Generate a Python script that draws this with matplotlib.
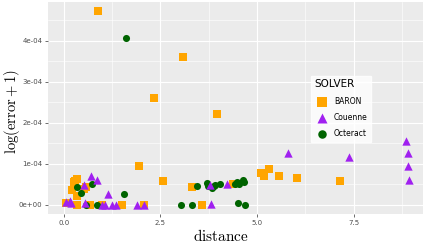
import matplotlib.pyplot as plt
from matplotlib.ticker import MultipleLocator, FuncFormatter

# data (y values in units of 1e-4)
baron_x = [0.89, 3.09, 2.34, 1.96, 2.57, 3.32, 3.58, 0.26, 0.35, 0.30, 0.21, 0.34, 0.58, 0.52,
           0.05, 0.34, 0.69, 0.98, 1.52, 2.07, 3.96, 5.10, 5.17, 5.32, 5.58, 6.03, 7.15, 4.37]
baron_y = [4.71, 3.61, 2.61, 0.94, 0.58, 0.44, 0.0, 0.55, 0.62, 0.57, 0.35, 0.22, 0.42, 0.38,
           0.05, 0.0, 0.0, 0.0, 0.0, 0.0, 2.20, 0.77, 0.70, 0.88, 0.69, 0.66, 0.58, 0.50]

couenne_x = [0.70, 0.85, 0.52, 1.15, 0.06, 0.15, 0.20, 0.55, 0.98, 1.06, 1.24, 1.36, 1.89, 2.07,
             3.80, 3.78, 4.23, 5.80, 7.37, 8.86, 8.92, 8.92, 8.93]
couenne_y = [0.70, 0.60, 0.48, 0.27, 0.07, 0.10, 0.03, 0.05, 0.0, 0.0, 0.0, 0.0, 0.0, 0.0,
             0.02, 0.48, 0.50, 1.27, 1.15, 1.54, 1.25, 0.93, 0.60]

octeract_x = [1.62, 0.34, 0.44, 0.74, 1.56, 0.57, 0.86, 3.04, 3.32, 3.44, 3.70, 3.74, 3.83, 3.88,
              3.91, 4.04, 4.43, 4.49, 4.53, 4.65, 4.67, 4.52, 4.69]
octeract_y = [4.07, 0.44, 0.28, 0.51, 0.27, 0.0, 0.0, 0.0, 0.0, 0.46, 0.52, 0.46, 0.41, 0.46,
              0.48, 0.50, 0.50, 0.56, 0.50, 0.60, 0.55, 0.03, 0.0]

plt.rcParams['mathtext.fontset'] = 'cm'

fig = plt.figure(figsize=(4.24, 2.43), dpi=100)
ax = fig.add_axes([0.113, 0.119, 0.885, 0.873])
ax.set_facecolor('#EBEBEB')
for s in ax.spines.values():
    s.set_visible(False)

sc = 1e-4
ax.scatter(baron_x, [v * sc for v in baron_y], marker='s', s=30, color='#FFA500',
           linewidths=0, label='BARON', zorder=3)
ax.scatter(octeract_x, [v * sc for v in octeract_y], marker='o', s=26, color='#006400',
           linewidths=0, label='Octeract', zorder=3)
ax.scatter(couenne_x, [v * sc for v in couenne_y], marker='^', s=36, color='#A020F0',
           linewidths=0, label='Couenne', zorder=3)

ax.set_xlim(-0.41, 9.3)
ax.set_ylim(-0.23e-4, 4.94e-4)
ax.xaxis.set_major_locator(MultipleLocator(2.5))
ax.xaxis.set_minor_locator(MultipleLocator(1.25))
ax.yaxis.set_major_locator(MultipleLocator(1e-4))
ax.yaxis.set_minor_locator(MultipleLocator(0.5e-4))
ax.xaxis.set_major_formatter(FuncFormatter(lambda v, p: f'{v:.1f}'))
ax.yaxis.set_major_formatter(FuncFormatter(lambda v, p: f'{int(round(v / 1e-4))}e-04' if round(v / 1e-4) else '0e+00'))
ax.grid(True, which='major', color='white', lw=0.8)
ax.grid(True, which='minor', color='white', lw=0.4)
ax.set_axisbelow(True)
ax.tick_params(which='major', length=2, width=0.5, color='#333333', labelsize=5, labelcolor='#4D4D4D', pad=2)
ax.tick_params(which='minor', length=0)

ax.set_xlabel(r'$\mathrm{distance}$', fontsize=11)
ax.set_ylabel(r'$\log(\mathrm{error} + 1)$', fontsize=10.5)
ax.xaxis.set_label_coords(0.46, -0.065)
ax.yaxis.set_label_coords(-0.068, 0.486)

h, l = ax.get_legend_handles_labels()
order = [0, 2, 1]
leg = ax.legend([h[i] for i in order], [l[i] for i in order], title='SOLVER',
                loc='upper left', bbox_to_anchor=(0.70, 0.651), fontsize=5.5,
                title_fontsize=7.5, frameon=True, fancybox=False, borderpad=0.45,
                handletextpad=0.6, labelspacing=0.95, markerscale=1.2, borderaxespad=0)
leg.get_frame().set_facecolor('white')
leg.get_frame().set_edgecolor('white')
leg._legend_box.align = 'left'

fig.savefig('out.png', dpi=100)
